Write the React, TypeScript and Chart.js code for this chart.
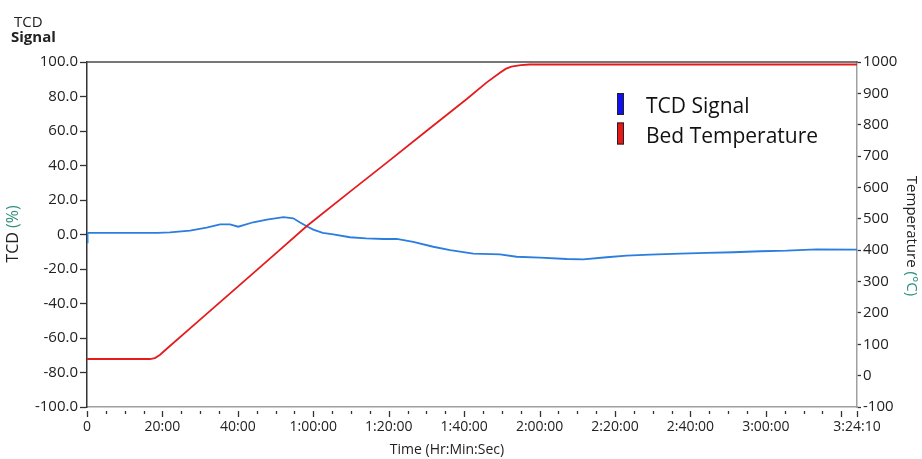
import React, { useEffect, useRef } from "react";
import { Chart, registerables } from "chart.js";

Chart.register(...registerables);

// ---- data (time in minutes) ----
const X_END_MIN = 204 + 10 / 60; // 3:24:10

const tcdTimeMin = [
  0, 0.15, 5, 10, 18.6, 22, 27.3, 31.7, 35.3, 37.9, 40.1, 44.1, 47.7, 52.1, 54.7,
  56.5, 58.5, 60.0, 62.5, 65.3, 69.7, 74, 78.6, 82.1, 86.5, 91.8, 96.3, 102.4,
  109.5, 113.9, 120.1, 127.2, 131.6, 137.8, 143.1, 149.3, 157.3, 164.3, 171.4,
  178.5, 185.5, 193.5, 204.17,
];
const tcdSignal = [
  -4.5, 0.9, 1.0, 1.0, 1.0, 1.2, 2.2, 4.0, 5.9, 5.9, 4.5, 7.1, 8.6, 10.1, 9.4,
  7.0, 4.5, 2.8, 1.0, 0.1, -1.6, -2.2, -2.6, -2.6, -4.3, -7.1, -9.0, -11.1,
  -11.5, -12.9, -13.4, -14.2, -14.4, -13.2, -12.3, -11.7, -11.1, -10.7, -10.3,
  -9.7, -9.4, -8.6, -8.8,
];

const bedTimeMin = [
  0, 16.7, 18, 19.3, 21, 29, 40, 50, 58.3, 70, 80, 90, 100.7, 106, 109.4, 111,
  112.5, 115, 117.4, 204.17,
];
const bedTempC = [
  53, 53, 56, 66, 84, 168, 284, 389, 477, 589, 684, 780, 882, 935, 965, 978,
  985, 990, 992, 992,
];

const xLabelValues = [0, 20, 40, 60, 80, 100, 120, 140, 160, 180, X_END_MIN];
const xLabelTexts = [
  "0", "20:00", "40:00", "1:00:00", "1:20:00", "1:40:00", "2:00:00", "2:20:00",
  "2:40:00", "3:00:00", "3:24:10",
];
const xMajorTickValues = [0, 20, 40, 60, 80, 100, 120, 140, 160, 180, 200, X_END_MIN];
const xMinorTickStep = 5;

const seriesLabels = ["TCD Signal", "Bed Temperature"];

// ---- styles ----
const FONT = "'Open Sans', 'DejaVu Sans', sans-serif";
const BLUE_LINE = "#2b7de0";
const RED_LINE = "#e41c1c";
const LEGEND_BLUE = "#1010f0";
const LEGEND_RED = "#e81818";
const TEXT = "#222";
const TITLE_ACCENT = "#2f8f7f";

const extrasPlugin = {
  id: "extras",
  afterDraw(chart: any) {
    const { ctx, chartArea, scales } = chart;
    const { left, right, top, bottom } = chartArea;
    ctx.save();

    // top frame line
    ctx.strokeStyle = "#4a4a4a";
    ctx.lineWidth = 1.5;
    ctx.beginPath();
    ctx.moveTo(left - 0.75, top);
    ctx.lineTo(right + 0.75, top);
    ctx.stroke();

    // x tick marks (major + minor)
    ctx.strokeStyle = "#333";
    ctx.lineWidth = 1.3;
    const xs = scales.x;
    for (const v of xMajorTickValues) {
      const px = Math.round(xs.getPixelForValue(v)) + 0.5;
      ctx.beginPath();
      ctx.moveTo(px, bottom + 4);
      ctx.lineTo(px, bottom + 10);
      ctx.stroke();
    }
    for (let v = xMinorTickStep; v < X_END_MIN; v += xMinorTickStep) {
      if (v % 20 === 0) continue;
      const px = Math.round(xs.getPixelForValue(v)) + 0.5;
      ctx.beginPath();
      ctx.moveTo(px, bottom + 4);
      ctx.lineTo(px, bottom + 7);
      ctx.stroke();
    }

    // top-left label
    ctx.fillStyle = TEXT;
    ctx.textBaseline = "alphabetic";
    ctx.textAlign = "left";
    ctx.font = `15px ${FONT}`;
    ctx.fillText("TCD", 14, 27);
    ctx.font = `bold 15px ${FONT}`;
    ctx.fillText("Signal", 11, 42);

    // x axis title
    ctx.font = `14px ${FONT}`;
    ctx.textAlign = "center";
    ctx.textBaseline = "middle";
    ctx.fillStyle = TEXT;
    ctx.fillText("Time (Hr:Min:Sec)", 447, 450);

    // rotated y titles with accent part
    const drawRotated = (parts: [string, string][], cx: number, cy: number, rot: number, size: number) => {
      ctx.save();
      ctx.translate(cx, cy);
      ctx.rotate(rot);
      ctx.font = `${size}px ${FONT}`;
      ctx.textAlign = "left";
      ctx.textBaseline = "middle";
      const total = parts.reduce((s, p) => s + ctx.measureText(p[0]).width, 0);
      let x = -total / 2;
      for (const [t, c] of parts) {
        ctx.fillStyle = c;
        ctx.fillText(t, x, 0);
        x += ctx.measureText(t).width;
      }
      ctx.restore();
    };
    drawRotated([["TCD ", TEXT], ["(%)", TITLE_ACCENT]], 13, 234, -Math.PI / 2, 16);
    drawRotated([["Temperature ", TEXT], ["(°C)", TITLE_ACCENT]], 911, 236, Math.PI / 2, 15);

    // legend
    const boxes = [LEGEND_BLUE, LEGEND_RED];
    const labels = chart.data.datasets.map((d: any) => d.label);
    const legendOrder = [0, 1];
    ctx.font = `21px ${FONT}`;
    ctx.textAlign = "left";
    ctx.textBaseline = "alphabetic";
    legendOrder.forEach((di, i) => {
      const by = 93 + i * 29.5;
      ctx.fillStyle = boxes[i];
      ctx.fillRect(617, by, 7, 22);
      ctx.strokeStyle = "#222";
      ctx.lineWidth = 1;
      ctx.strokeRect(617.5, by + 0.5, 6, 21);
      ctx.fillStyle = "#111";
      ctx.fillText(labels[di], 646, 113 + i * 30);
    });

    ctx.restore();
  },
};

export default function App() {
  const ref = useRef<HTMLCanvasElement | null>(null);

  useEffect(() => {
    if (!ref.current) return;
    Chart.defaults.font.family = FONT;
    const tickFontY = { family: FONT, size: 15 };
    const tickFontX = { family: FONT, size: 14 };

    const chart = new Chart(ref.current, {
      type: "line",
      data: {
        datasets: [
          {
            label: seriesLabels[0],
            data: tcdTimeMin.map((t, i) => ({ x: t, y: tcdSignal[i] })),
            yAxisID: "y",
            borderColor: BLUE_LINE,
            backgroundColor: BLUE_LINE,
            borderWidth: 1.8,
            pointRadius: 0,
            tension: 0,
            order: 2,
          },
          {
            label: seriesLabels[1],
            data: bedTimeMin.map((t, i) => ({ x: t, y: bedTempC[i] })),
            yAxisID: "y2",
            borderColor: RED_LINE,
            backgroundColor: RED_LINE,
            borderWidth: 1.8,
            pointRadius: 0,
            tension: 0,
            order: 1,
          },
        ],
      },
      options: {
        responsive: false,
        animation: false,
        layout: { padding: { top: 62, left: 0, right: 0, bottom: 0 } },
        plugins: {
          legend: { display: false },
          title: { display: false },
          tooltip: { enabled: false },
        },
        scales: {
          x: {
            type: "linear",
            position: "bottom",
            min: 0,
            max: X_END_MIN,
            afterBuildTicks: (s: any) => {
              s.ticks = xLabelValues.map((v) => ({ value: v }));
            },
            afterFit: (s: any) => {
              s.height = 52;
            },
            ticks: {
              autoSkip: false,
              maxRotation: 0,
              minRotation: 0,
              padding: 2,
              color: TEXT,
              font: tickFontX,
              callback: (v: any) => {
                const idx = xLabelValues.findIndex((x) => Math.abs(x - Number(v)) < 1e-6);
                return idx >= 0 ? xLabelTexts[idx] : "";
              },
            },
            grid: {
              drawOnChartArea: false,
              drawTicks: true,
              tickLength: 10,
              tickColor: "rgba(0,0,0,0)",
            },
            border: { display: true, color: "#a0a0a0", width: 1.5 },
          },
          y: {
            type: "linear",
            position: "left",
            min: -100,
            max: 100,
            afterFit: (s: any) => {
              s.width = 87;
            },
            ticks: {
              stepSize: 20,
              padding: 2,
              color: TEXT,
              font: tickFontY,
              callback: (v: any) => Number(v).toFixed(1),
            },
            grid: {
              drawOnChartArea: false,
              drawTicks: true,
              tickLength: 7,
              tickColor: "#333",
              tickWidth: 1.3,
            },
            border: { display: true, color: "#333", width: 1.5 },
          },
          y2: {
            type: "linear",
            position: "right",
            min: -100,
            max: 1000,
            afterFit: (s: any) => {
              s.width = 65;
            },
            ticks: {
              stepSize: 100,
              padding: 2,
              color: TEXT,
              font: tickFontY,
              callback: (v: any) => String(v),
            },
            grid: {
              drawOnChartArea: false,
              drawTicks: true,
              tickLength: 4,
              tickColor: "#333",
              tickWidth: 1.3,
            },
            border: { display: true, color: "#a0a0a0", width: 1.5 },
          },
        },
      },
      plugins: [extrasPlugin],
    } as any);

    return () => chart.destroy();
  }, []);

  return (
    <div
      style={{
        position: "fixed",
        left: 0,
        top: 0,
        width: 922,
        height: 459,
        background: "#fff",
      }}
    >
      <canvas ref={ref} width={922} height={459} style={{ display: "block" }} />
    </div>
  );
}
